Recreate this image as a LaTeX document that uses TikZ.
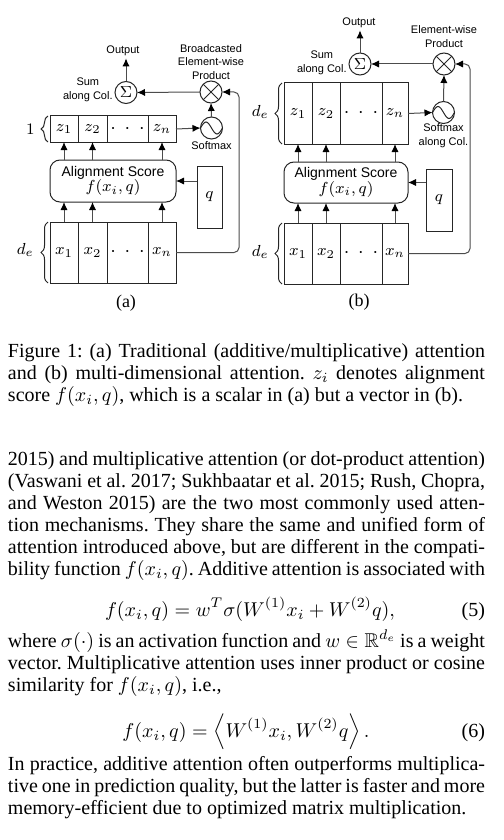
\documentclass[tikz,border=0pt]{standalone}
\usepackage{amssymb}
\usepackage{fontspec}
\setmainfont{Liberation Serif}
\newfontfamily\labfont{Liberation Sans}
\usetikzlibrary{arrows.meta,decorations.pathreplacing,calc}
\newcommand{\fullline}[1]{\makebox[238.5pt][s]{#1}}
\newcommand{\celldots}{{\fontsize{10}{10}\selectfont$\cdot\hspace{2.2pt}\cdot\hspace{2.2pt}\cdot$}}
\frenchspacing
\tikzset{
  arr/.style={draw=black!70, line width=0.5pt, -{Latex[length=4pt,width=3.6pt,color=black]}},
  cell/.style={draw=black!85, line width=0.5pt, inner sep=0pt, outer sep=0pt, minimum height=13pt, font=\fontsize{8}{9}\selectfont},
  circ/.style={circle, draw=black!85, line width=0.5pt, minimum size=11pt, inner sep=0pt, outer sep=0pt, font=\fontsize{8}{9}\selectfont},
  prodsym/.style={circ, path picture={\draw[line width=0.5pt, black!85] (path picture bounding box.north west) -- (path picture bounding box.south east) (path picture bounding box.north east) -- (path picture bounding box.south west);}},
  wavesym/.style={circ, path picture={\draw[line width=0.5pt, black!85] (path picture bounding box.west) sin ++(2.75pt,3pt) cos ++(2.75pt,-3pt) sin ++(2.75pt,-3pt) cos ++(2.75pt,3pt);}},
  lab/.style={inner sep=1pt, align=center, font=\fontsize{5.5}{6.9}\labfont},
  abox/.style={draw=black!85, line width=0.5pt, rounded corners=5pt, inner sep=0pt, outer sep=0pt, align=center, font=\fontsize{7}{7.6}\labfont},
  bracedec/.style={draw=black!85, line width=0.5pt, decorate, decoration={brace, amplitude=3.5pt}},
  mlab/.style={inner sep=0pt, anchor=east, font=\fontsize{8}{9}\selectfont},
  sub/.style={inner sep=0pt, font=\fontsize{9}{10}\selectfont},
  txt/.style={inner sep=0pt, outer sep=0pt, anchor=base west, font=\fontsize{10}{11}\selectfont},
  rret/.style={arr, rounded corners=2.5pt}
}
\begin{document}
\begin{tikzpicture}[x=0.5pt,y=-0.5pt]
\useasboundingbox (0,0) rectangle (503,840);

% ---------------- panel (a) ----------------
\node[circ] (asum) at (126,92.5) {$\Sigma$};
\node[prodsym] (aprod) at (211,92) {};
\node[wavesym] (asoft) at (211.5,128) {};
\node[lab] (aout) at (123,51) {Output};
\node[lab, anchor=east] (asumlab) at (115,90) {Sum\\along Col.};
\node[lab] (aprodlab) at (211,62) {Broadcasted\\Element-wise\\Product};
\node[lab] (asoftlab) at (211.5,146) {Softmax};

\node[cell, minimum width=14pt] (az1) at (64,129) {$z_1$};
\node[cell, minimum width=14.5pt] (az2) at (92.5,129) {$z_2$};
\node[cell, minimum width=20.5pt] (azd) at (127.5,129) {\celldots};
\node[cell, minimum width=14pt] (azn) at (162,129) {$z_n$};

\node[abox, minimum width=63pt, minimum height=21pt] (aalign) at (113,181) {Alignment Score\\{\fontsize{8}{8}\selectfont$f(x_i,q)$}};
\node[cell, minimum width=12.5pt, minimum height=31pt] (aq) at (209.5,197) {$q$};

\node[cell, minimum width=14pt, minimum height=30.5pt] (ax1) at (64,252.5) {$x_1$};
\node[cell, minimum width=14.5pt, minimum height=30.5pt] (ax2) at (92.5,252.5) {$x_2$};
\node[cell, minimum width=20.5pt, minimum height=30.5pt] (axd) at (127.5,252.5) {\celldots};
\node[cell, minimum width=14pt, minimum height=30.5pt] (axn) at (162,252.5) {$x_n$};

\draw[bracedec] ([xshift=-1pt]az1.south west) -- ([xshift=-1pt]az1.north west);
\node[mlab] (aone) at (35,129) {$1$};
\draw[bracedec] ([xshift=-1pt]ax1.south west) -- ([xshift=-1pt]ax1.north west);
\node[mlab] (ade) at (34,250) {$d_e$};

\foreach \c in {1,2,n}{
  \draw[arr] (ax\c.north) -- (ax\c.north |- aalign.south);
  \draw[arr] (aalign.north -| az\c) -- (az\c.south);
}
\draw[arr] (aq.west |- aalign.east) -- (aalign.east);
\draw[arr] (azn.east) -- (asoft.west);
\draw[arr] (asoft.north) -- (aprod.south);
\draw[arr] (aprod.west) -- (asum.east);
\draw[arr] (asum.north) -- (asum.north |- aout.south);
\coordinate (aret) at (239,170);
\draw[rret] (axn.east) -- (aret |- axn.east) -- (aret |- aprod.east) -- (aprod.east);

\node[sub] (acap) at (126,303) {(a)};

% ---------------- panel (b) ----------------
\node[circ] (bsum) at (360,64) {$\Sigma$};
\node[prodsym] (bprod) at (444,64) {};
\node[wavesym] (bsoft) at (443.5,112.5) {};
\node[lab] (bout) at (359,23) {Output};
\node[lab, anchor=east] (bsumlab) at (349,62.5) {Sum\\along Col.};
\node[lab] (bprodlab) at (444,36.5) {Element-wise\\Product};
\node[lab] (bsoftlab) at (443.5,135.5) {Softmax\\along Col.};

\node[cell, minimum width=14pt, minimum height=30.5pt] (bz1) at (298,113.5) {$z_1$};
\node[cell, minimum width=14pt, minimum height=30.5pt] (bz2) at (326,113.5) {$z_2$};
\node[cell, minimum width=21pt, minimum height=30.5pt] (bzd) at (361,113.5) {\celldots};
\node[cell, minimum width=13pt, minimum height=30.5pt] (bzn) at (395,113.5) {$z_n$};

\node[abox, minimum width=62pt, minimum height=20.5pt] (balign) at (346,182.5) {Alignment Score\\{\fontsize{8}{8}\selectfont$f(x_i,q)$}};
\node[cell, minimum width=13pt, minimum height=31pt] (bq) at (439,200) {$q$};

\node[cell, minimum width=14pt, minimum height=30.5pt] (bx1) at (298,253.5) {$x_1$};
\node[cell, minimum width=14pt, minimum height=30.5pt] (bx2) at (326,253.5) {$x_2$};
\node[cell, minimum width=21pt, minimum height=30.5pt] (bxd) at (361,253.5) {\celldots};
\node[cell, minimum width=13pt, minimum height=30.5pt] (bxn) at (395,253.5) {$x_n$};

\draw[bracedec] ([xshift=-1pt]bz1.south west) -- ([xshift=-1pt]bz1.north west);
\node[mlab] (bdez) at (269,112) {$d_e$};
\draw[bracedec] ([xshift=-1pt]bx1.south west) -- ([xshift=-1pt]bx1.north west);
\node[mlab] (bdex) at (269,252) {$d_e$};

\foreach \c in {1,2,n}{
  \draw[arr] (bx\c.north) -- (bx\c.north |- balign.south);
  \draw[arr] (balign.north -| bz\c) -- (bz\c.south);
}
\draw[arr] (bq.west |- balign.east) -- (balign.east);
\draw[arr] (bzn.east) -- (bsoft.west);
\draw[arr] (bsoft.north) -- (bprod.south);
\draw[arr] (bprod.west) -- (bsum.east);
\draw[arr] (bsum.north) -- (bsum.north |- bout.south);
\coordinate (bret) at (470,170);
\draw[rret] (bxn.east) -- (bret |- bxn.east) -- (bret |- bprod.east) -- (bprod.east);

\node[sub] (bcap) at (359,302) {(b)};

% ---------------- caption ----------------
\node[txt] (c1) at (8,357) {\fullline{Figure 1: (a) Traditional (additive/multiplicative) attention}};
\node[txt] (c2) at (8,379) {\fullline{and (b) multi-dimensional attention. $z_i$ denotes alignment}};
\node[txt] (c3) at (8,401) {score $f(x_i,q)$, which is a scalar in (a) but a vector in (b).};

% ---------------- body ----------------
\node[txt] (t1) at (8,465) {\fullline{2015) and multiplicative attention (or dot-product attention)}};
\node[txt] (t2) at (8,487) {\fullline{(Vaswani et al. 2017; Sukhbaatar et al. 2015; Rush, Chopra,}};
\node[txt] (t3) at (8,509) {\fullline{and Weston 2015) are the two most commonly used atten-}};
\node[txt] (t4) at (8,531) {\fullline{tion mechanisms. They share the same and unified form of}};
\node[txt] (t5) at (8,553) {\fullline{attention introduced above, but are different in the compati-}};
\node[txt] (t6) at (8,575) {\fullline{bility function $f(x_i,q)$. Additive attention is associated with}};

\node[txt, anchor=base] (eq5) at (250,616) {$\displaystyle f(x_i,q) = w^T\sigma(W^{(1)}x_i + W^{(2)}q),$};
\node[txt, anchor=base east] (n5) at (485,616) {(5)};

\node[txt] (t7) at (8,647) {\fullline{where $\sigma(\cdot)$ is an activation function and $w\in\mathbb{R}^{d_e}$ is a weight}};
\node[txt] (t8) at (8,669) {\fullline{vector. Multiplicative attention uses inner product or cosine}};
\node[txt] (t9) at (8,691) {similarity for $f(x_i,q)$, i.e.,};

\node[txt, anchor=base] (eq6) at (246,737) {$\displaystyle f(x_i,q) = \left\langle W^{(1)}x_i, W^{(2)}q\right\rangle.$};
\node[txt, anchor=base east] (n6) at (485,737) {(6)};

\node[txt] (t10) at (8,770) {\fullline{In practice, additive attention often outperforms multiplica-}};
\node[txt] (t11) at (8,792) {\fullline{tive one in prediction quality, but the latter is faster and more}};
\node[txt] (t12) at (8,814) {memory-efficient due to optimized matrix multiplication.};
\end{tikzpicture}
\end{document}
